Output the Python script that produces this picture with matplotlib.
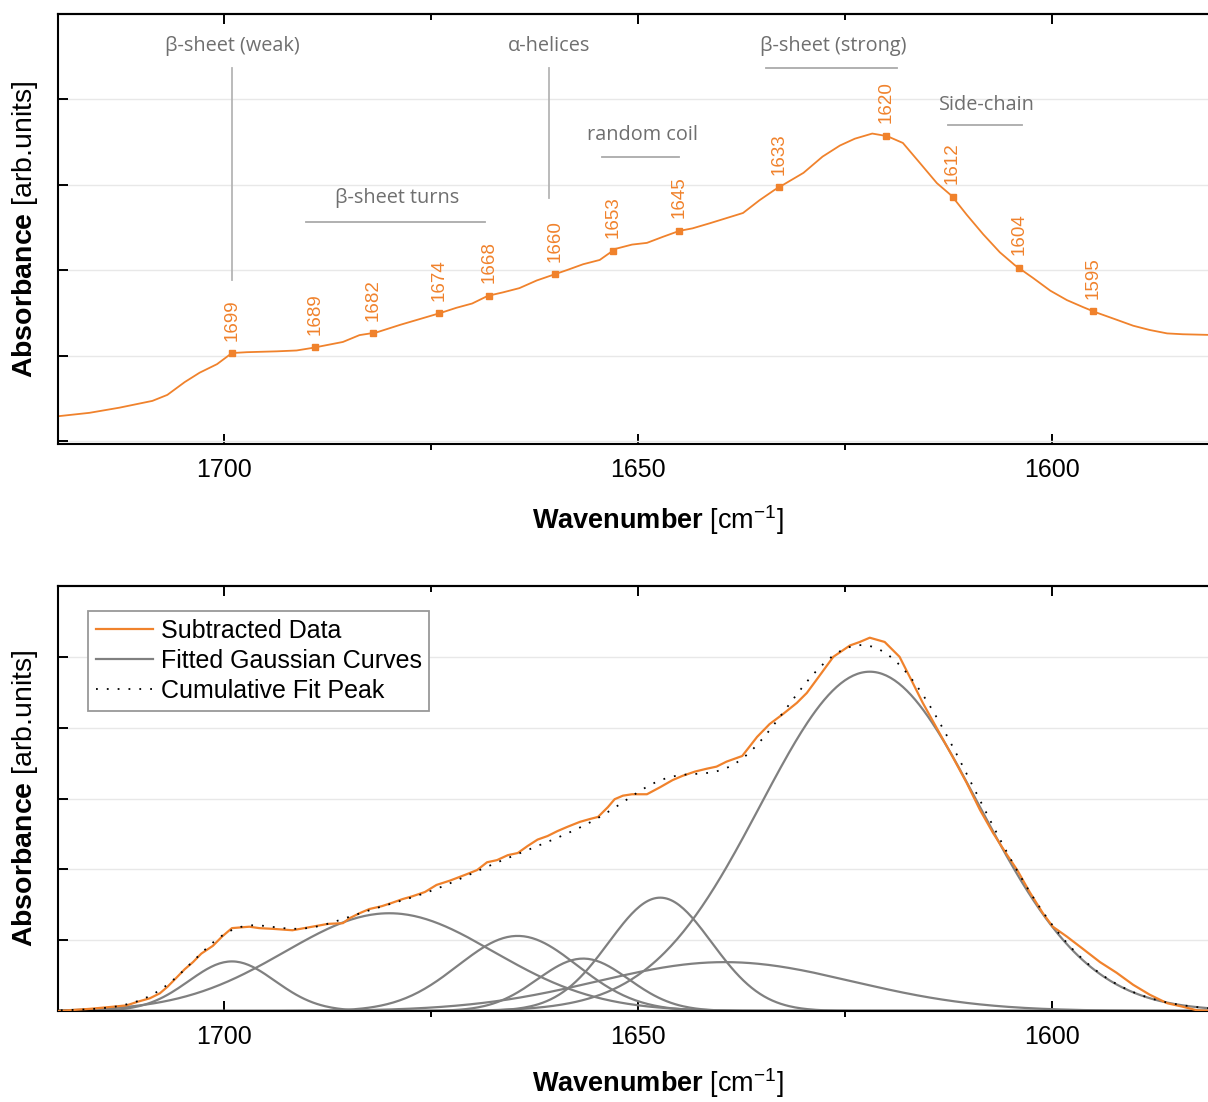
import numpy as np
import matplotlib.pyplot as plt

plt.rcParams['font.family'] = ['Liberation Sans', 'DejaVu Sans']
plt.rcParams['mathtext.fontset'] = 'custom'
plt.rcParams['mathtext.rm'] = 'Liberation Sans'
plt.rcParams['mathtext.bf'] = 'Liberation Sans:bold'
plt.rcParams['mathtext.it'] = 'Liberation Sans:italic'

ORANGE = '#f0822c'
GRAY = '#808080'
NOTE = '#6f6f6f'

# --- top panel: amide I band with second-derivative peak positions ---
raw_wn = [1720.0, 1716.2, 1712.6, 1708.6, 1706.8, 1704.7, 1702.9, 1700.8, 1699.0,
          1697.2, 1693.6, 1691.2, 1689.3, 1685.6, 1683.6, 1681.6, 1678.7, 1673.8,
          1671.9, 1670.0, 1668.1, 1666.3, 1664.3, 1662.2, 1660.4, 1658.6, 1656.6,
          1654.6, 1652.7, 1650.7, 1648.9, 1647.0, 1645.0, 1643.4, 1641.3, 1639.3,
          1637.3, 1635.3, 1633.5, 1630.0, 1627.7, 1625.6, 1623.8, 1621.7, 1619.9,
          1618.0, 1615.9, 1613.9, 1612.1, 1610.3, 1608.3, 1606.3, 1604.5, 1602.3,
          1600.2, 1598.2, 1596.3, 1594.8, 1592.2, 1590.2, 1588.2, 1586.1, 1584.2,
          1580.0]
raw_abs = [0.29, 0.33, 0.39, 0.47, 0.54, 0.69, 0.80, 0.90, 1.03,
           1.04, 1.05, 1.06, 1.09, 1.16, 1.24, 1.27, 1.36, 1.50,
           1.56, 1.61, 1.70, 1.74, 1.79, 1.88, 1.94, 2.00, 2.07,
           2.12, 2.25, 2.30, 2.32, 2.39, 2.46, 2.49, 2.55, 2.61,
           2.67, 2.82, 2.94, 3.14, 3.33, 3.46, 3.54, 3.60, 3.57,
           3.49, 3.25, 3.02, 2.87, 2.65, 2.42, 2.21, 2.06, 1.91,
           1.76, 1.65, 1.57, 1.51, 1.42, 1.35, 1.30, 1.26, 1.25,
           1.24]
peak_wn = [1699, 1689, 1682, 1674, 1668, 1660, 1653, 1645, 1633, 1620, 1612, 1604, 1595]

# --- bottom panel: subtracted data and gaussian components ---
sub_wn = [1720.0, 1716.2, 1713.4, 1711.7, 1710.4, 1708.9, 1707.7, 1706.8, 1705.7,
          1704.7, 1703.7, 1702.7, 1701.3, 1700.2, 1699.0, 1696.9, 1695.7, 1694.1,
          1691.7, 1689.3, 1687.4, 1685.6, 1684.8, 1683.6, 1682.4, 1680.9, 1679.6,
          1678.4, 1677.2, 1675.7, 1674.3, 1672.7, 1670.9, 1669.4, 1668.2, 1667.0,
          1665.7, 1664.5, 1663.3, 1662.1, 1660.9, 1659.7, 1658.5, 1657.0, 1655.8,
          1654.8, 1653.6, 1652.8, 1651.8, 1650.7, 1648.9, 1647.3, 1645.8, 1644.6,
          1643.1, 1641.7, 1640.5, 1639.3, 1637.4, 1636.8, 1635.6, 1634.1, 1632.5,
          1630.8, 1629.6, 1628.4, 1627.4, 1626.4, 1624.4, 1623.2, 1622.0, 1620.2,
          1618.4, 1617.1, 1615.6, 1613.8, 1612.0, 1610.3, 1608.7, 1607.1, 1605.4,
          1604.2, 1602.7, 1601.1, 1599.9, 1598.2, 1596.3, 1594.2, 1592.2, 1590.2,
          1588.2, 1586.1, 1584.2, 1582.5, 1580.0]
sub_abs = [0.00, 0.03, 0.06, 0.08, 0.13, 0.18, 0.25, 0.34, 0.47,
           0.59, 0.69, 0.81, 0.92, 1.05, 1.17, 1.19, 1.17, 1.16,
           1.14, 1.19, 1.23, 1.24, 1.31, 1.38, 1.44, 1.48, 1.53,
           1.58, 1.62, 1.68, 1.78, 1.84, 1.92, 1.99, 2.10, 2.13,
           2.20, 2.23, 2.33, 2.42, 2.47, 2.54, 2.60, 2.67, 2.71,
           2.74, 2.88, 2.99, 3.04, 3.06, 3.06, 3.16, 3.26, 3.32,
           3.38, 3.42, 3.45, 3.52, 3.60, 3.69, 3.87, 4.05, 4.19,
           4.35, 4.49, 4.68, 4.84, 5.00, 5.16, 5.21, 5.27, 5.21,
           5.00, 4.70, 4.35, 3.97, 3.59, 3.22, 2.84, 2.51, 2.20,
           1.99, 1.68, 1.38, 1.19, 1.05, 0.88, 0.69, 0.54, 0.37,
           0.23, 0.11, 0.06, 0.01, 0.00]

gauss_center = [1699.0, 1680.0, 1664.5, 1656.6, 1647.3, 1639.5, 1622.0]
gauss_height = [0.70, 1.38, 1.06, 0.74, 1.60, 0.69, 4.79]
gauss_sigma = [5.2, 12.6, 7.2, 5.5, 6.2, 15.4, 13.2]

fig = plt.figure(figsize=(12.08, 11.02), dpi=100)
ax1 = fig.add_axes([0.048, 1 - 444 / 1102, 0.96, 430 / 1102])
ax2 = fig.add_axes([0.048, 1 - 1011 / 1102, 0.96, 425 / 1102])


def style(ax, ylim, yticks, label_y):
    ax.set_xlim(1720, 1580)
    ax.set_ylim(*ylim)
    ax.set_xticks([1700, 1650, 1600])
    ax.set_xticks([1675, 1625], minor=True)
    ax.set_yticks(yticks)
    ax.set_yticklabels([])
    ax.tick_params(axis='x', which='major', direction='in', length=7, width=1.4,
                   top=False, labelsize=18, pad=10)
    ax.tick_params(axis='x', which='minor', direction='out', length=4.3, width=1.4, top=False)
    ax.tick_params(axis='y', direction='in', length=7, width=1.4, left=True, right=True)
    top = ax.secondary_xaxis('top')
    top.set_xticks([1700, 1650, 1600])
    top.set_xticks([1675, 1625], minor=True)
    top.tick_params(which='major', direction='in', length=7, width=1.4, labeltop=False)
    top.tick_params(which='minor', direction='in', length=4.3, width=1.4)
    top.spines['top'].set_linewidth(1.5)
    for s in ax.spines.values():
        s.set_linewidth(1.5)
    ax.grid(axis='y', color='#e8e8e8', lw=1)
    ax.set_axisbelow(True)
    ax.text(-0.0285, 0.5, r'$\mathbf{Absorbance}$ [arb.units]', transform=ax.transAxes,
            rotation=90, ha='center', va='center', fontsize=20.5)
    ax.text(0.517, label_y, r'$\mathbf{Wavenumber}$ [cm$^{-1}$]', transform=ax.transAxes,
            ha='center', va='center', fontsize=19.5)


style(ax1, (-0.035, 5.0), [0, 1, 2, 3, 4], -0.176)
style(ax2, (0, 6.0), [0, 1, 2, 3, 4, 5], -0.17)

# top: spectrum + peak markers
ax1.plot(raw_wn, raw_abs, color=ORANGE, lw=1.3)
peak_abs = np.interp(peak_wn, raw_wn[::-1], raw_abs[::-1])
ax1.plot(peak_wn, peak_abs, 's', color=ORANGE, ms=5, ls='none')
for w, a in zip(peak_wn, peak_abs):
    ax1.annotate(str(w), (w, a), xytext=(0, 9), textcoords='offset points',
                 rotation=90, ha='center', va='bottom', color=ORANGE, fontsize=13.5)

# band assignments
note_font = dict(family=['Open Sans', 'DejaVu Sans'], color=NOTE, fontsize=14.3,
                 ha='center', va='center')
ax1.text(1699.0, 4.62, 'β-sheet (weak)', **note_font)
ax1.plot([1699.0, 1699.0], [4.37, 1.88], color='#b5b5b5', lw=1.3)
ax1.text(1660.7, 4.62, 'α-helices', **note_font)
ax1.plot([1660.7, 1660.7], [4.37, 2.84], color='#b5b5b5', lw=1.3)
ax1.text(1626.4, 4.62, 'β-sheet (strong)', **note_font)
ax1.plot([1634.5, 1618.7], [4.37, 4.37], color='#aaaaaa', lw=1.3)
ax1.text(1679.1, 2.85, 'β-sheet turns', **note_font)
ax1.plot([1690.1, 1668.4], [2.57, 2.57], color='#aaaaaa', lw=1.3)
ax1.text(1649.4, 3.58, 'random coil', **note_font)
ax1.plot([1654.3, 1645.0], [3.32, 3.32], color='#aaaaaa', lw=1.3)
ax1.text(1607.9, 3.93, 'Side-chain', **note_font)
ax1.plot([1612.6, 1603.6], [3.70, 3.70], color='#aaaaaa', lw=1.3)

# bottom: deconvolution
grid_wn = np.linspace(1580, 1720, 561)
total = np.zeros_like(grid_wn)
for i, (c, h, s) in enumerate(zip(gauss_center, gauss_height, gauss_sigma)):
    g = h * np.exp(-(grid_wn - c) ** 2 / (2 * s ** 2))
    total += g
    ax2.plot(grid_wn, g, color=GRAY, lw=1.6,
             label='Fitted Gaussian Curves' if i == 0 else None, zorder=2)
ax2.plot(sub_wn, sub_abs, color=ORANGE, lw=1.6, label='Subtracted Data', zorder=3)
ax2.plot(grid_wn, total, color='black', lw=1.3, ls=(0, (1, 5)),
         label='Cumulative Fit Peak', zorder=4)

h, l = ax2.get_legend_handles_labels()
order = [l.index('Subtracted Data'), l.index('Fitted Gaussian Curves'), l.index('Cumulative Fit Peak')]
leg = ax2.legend([h[i] for i in order], [l[i] for i in order], loc='upper left',
                 bbox_to_anchor=(0.026, 0.941), borderaxespad=0, fontsize=18,
                 handlelength=2.3, handletextpad=0.3, labelspacing=0.25,
                 borderpad=0.3, fancybox=False, framealpha=1, edgecolor='#999999')
leg.get_frame().set_linewidth(1.3)

fig.savefig('out.png', dpi=100)
